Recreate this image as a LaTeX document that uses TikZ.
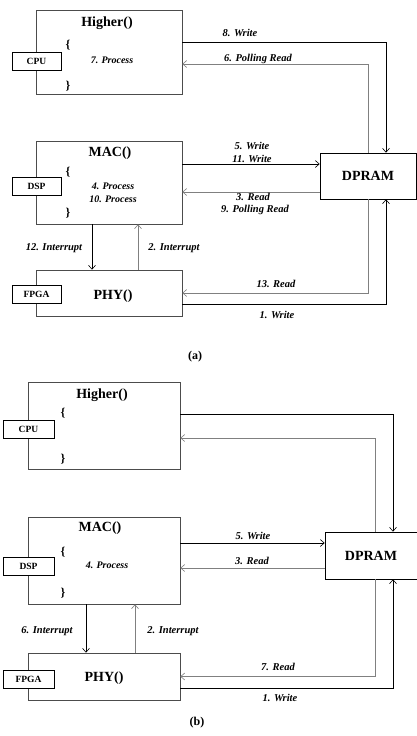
\documentclass[tikz,border=0pt]{standalone}
\usepackage{fontspec}
\setmainfont{Liberation Serif}
\usetikzlibrary{arrows.meta,positioning}

\begin{document}
\begin{tikzpicture}[x=1pt,y=-1pt,line width=0.6pt,
    func/.style={rectangle,draw=black!70,fill=white,minimum width=146pt,inner sep=0pt},
    chip/.style={rectangle,draw,fill=white,minimum width=49pt,minimum height=18pt,inner sep=0pt,font=\fontsize{9.5}{10}\selectfont\bfseries},
    mem/.style={rectangle,draw,fill=white,minimum height=46pt,inner sep=0pt,font=\fontsize{14}{16}\selectfont\bfseries},
    functitle/.style={font=\fontsize{14}{16}\selectfont\bfseries},
    brace/.style={font=\fontsize{12}{14}\selectfont\bfseries},
    lbl/.style={font=\fontsize{10.5}{12}\selectfont\bfseries\itshape},
    proc/.style={font=\fontsize{10}{12}\selectfont\bfseries\itshape},
    subcap/.style={font=\fontsize{12}{14}\selectfont\bfseries},
    write/.style={-{Straight Barb[length=4pt,width=7pt]},black},
    read/.style={-{Straight Barb[length=4pt,width=7pt]},black!50}]
    \useasboundingbox (0,0) rectangle (417,736);

    % (a)
    \node[func,minimum height=84pt] (higherA) at (109,52) {};
    \node[func,minimum height=83pt] (macA) at (109,182.5) {};
    \node[func,minimum height=46pt] (phyA) at (109,293) {};
    \node[mem,minimum width=96pt] (dpramA) at (368,176) {DPRAM};
    \node[chip] (cpuA) at (36.5,61.5) {CPU};
    \node[chip] (dspA) at (36.5,186) {DSP};
    \node[chip] (fpgaA) at (36.5,294) {FPGA};
    \node[functitle] (tHigherA) at (107,23) {Higher()};
    \node[brace] (obA) at (68,45) {\{};
    \node[proc] (p7A) at (112,60) {7. Process};
    \node[brace] (cbA) at (68,86) {\}};
    \node[functitle] (tMacA) at (110,153) {MAC()};
    \node[brace] (obMA) at (68,172) {\{};
    \node[proc] (p4A) at (113,186) {4. Process};
    \node[proc] (p10A) at (113,199) {10. Process};
    \node[brace] (cbMA) at (68,213) {\}};
    \node[functitle] (tPhyA) at (113,296) {PHY()};

    \draw[write] ([yshift=10]higherA.east) -| ([xshift=18]dpramA.north);
    \draw[read] (dpramA.north) |- ([yshift=-12]higherA.east);
    \coordinate (w5A) at ([yshift=18.5]macA.east);
    \draw[write] (w5A) -- (w5A -| dpramA.west);
    \coordinate (r3A) at ([yshift=-16]dpramA.west);
    \draw[read] (r3A) -- (r3A -| macA.east);
    \coordinate (i12A) at ([xshift=-17]macA.south);
    \draw[write] (i12A) -- (i12A |- phyA.north);
    \coordinate (i2A) at ([xshift=29]phyA.north);
    \draw[read] (i2A) -- (i2A |- macA.south);
    \draw[read] (dpramA.south) |- (phyA.east);
    \draw[write] ([yshift=-11]phyA.east) -| ([xshift=18]dpramA.south);

    \node[lbl] (l8A) at (240,33) {8. Write};
    \node[lbl] (l6A) at (258,59) {6. Polling Read};
    \node[lbl] (l5A) at (252,146) {5. Write};
    \node[lbl] (l11A) at (252,159) {11. Write};
    \node[lbl] (l3A) at (253,197) {3. Read};
    \node[lbl] (l9A) at (255,210) {9. Polling Read};
    \node[lbl] (l12A) at (54,248) {12. Interrupt};
    \node[lbl] (l2A) at (174,248) {2. Interrupt};
    \node[lbl] (l13A) at (276,284) {13. Read};
    \node[lbl] (l1A) at (277,315) {1. Write};
    \node[subcap] (capA) at (195,357) {(a)};

    % (b)
    \node[func,minimum width=152pt,minimum height=87pt] (higherB) at (104,425.5) {};
    \node[func,minimum width=152pt,minimum height=87pt] (macB) at (104,560.5) {};
    \node[func,minimum width=152pt,minimum height=47pt] (phyB) at (104,676.5) {};
    \node[mem,minimum width=92pt,minimum height=47pt] (dpramB) at (371,555.5) {DPRAM};
    \node[chip,minimum width=51pt] (cpuB) at (28.5,429) {CPU};
    \node[chip,minimum width=51pt] (dspB) at (28.5,566) {DSP};
    \node[chip,minimum width=51pt] (fpgaB) at (28.5,679) {FPGA};
    \node[functitle] (tHigherB) at (102,395) {Higher()};
    \node[brace] (obB) at (63,413) {\{};
    \node[brace] (cbB) at (63,459) {\}};
    \node[functitle] (tMacB) at (100,528) {MAC()};
    \node[brace] (obMB) at (63,552) {\{};
    \node[proc] (p4B) at (107,565) {4. Process};
    \node[brace] (cbMB) at (63,593) {\}};
    \node[functitle] (tPhyB) at (104,678) {PHY()};

    \draw[write] ([yshift=11.5]higherB.east) -| ([xshift=22]dpramB.north);
    \draw[read] ([xshift=4]dpramB.north) |- ([yshift=-12.5]higherB.east);
    \coordinate (w5B) at ([yshift=17.5]macB.east);
    \draw[write] (w5B) -- (w5B -| dpramB.west);
    \coordinate (r3B) at ([yshift=-12.5]dpramB.west);
    \draw[read] (r3B) -- (r3B -| macB.east);
    \coordinate (i6B) at ([xshift=-18]macB.south);
    \draw[write] (i6B) -- (i6B |- phyB.north);
    \coordinate (i2B) at ([xshift=31]phyB.north);
    \draw[read] (i2B) -- (i2B |- macB.south);
    \draw[read] ([xshift=4]dpramB.south) |- (phyB.east);
    \draw[write] ([yshift=-11.5]phyB.east) -| ([xshift=22]dpramB.south);

    \node[lbl] (l5B) at (253,536) {5. Write};
    \node[lbl] (l3B) at (252,561) {3. Read};
    \node[lbl] (l6B) at (47,631) {6. Interrupt};
    \node[lbl] (l2B) at (173,631) {2. Interrupt};
    \node[lbl] (l7B) at (278,667) {7. Read};
    \node[lbl] (l1B) at (280,698) {1. Write};
    \node[subcap] (capB) at (197,723) {(b)};
\end{tikzpicture}
\end{document}
